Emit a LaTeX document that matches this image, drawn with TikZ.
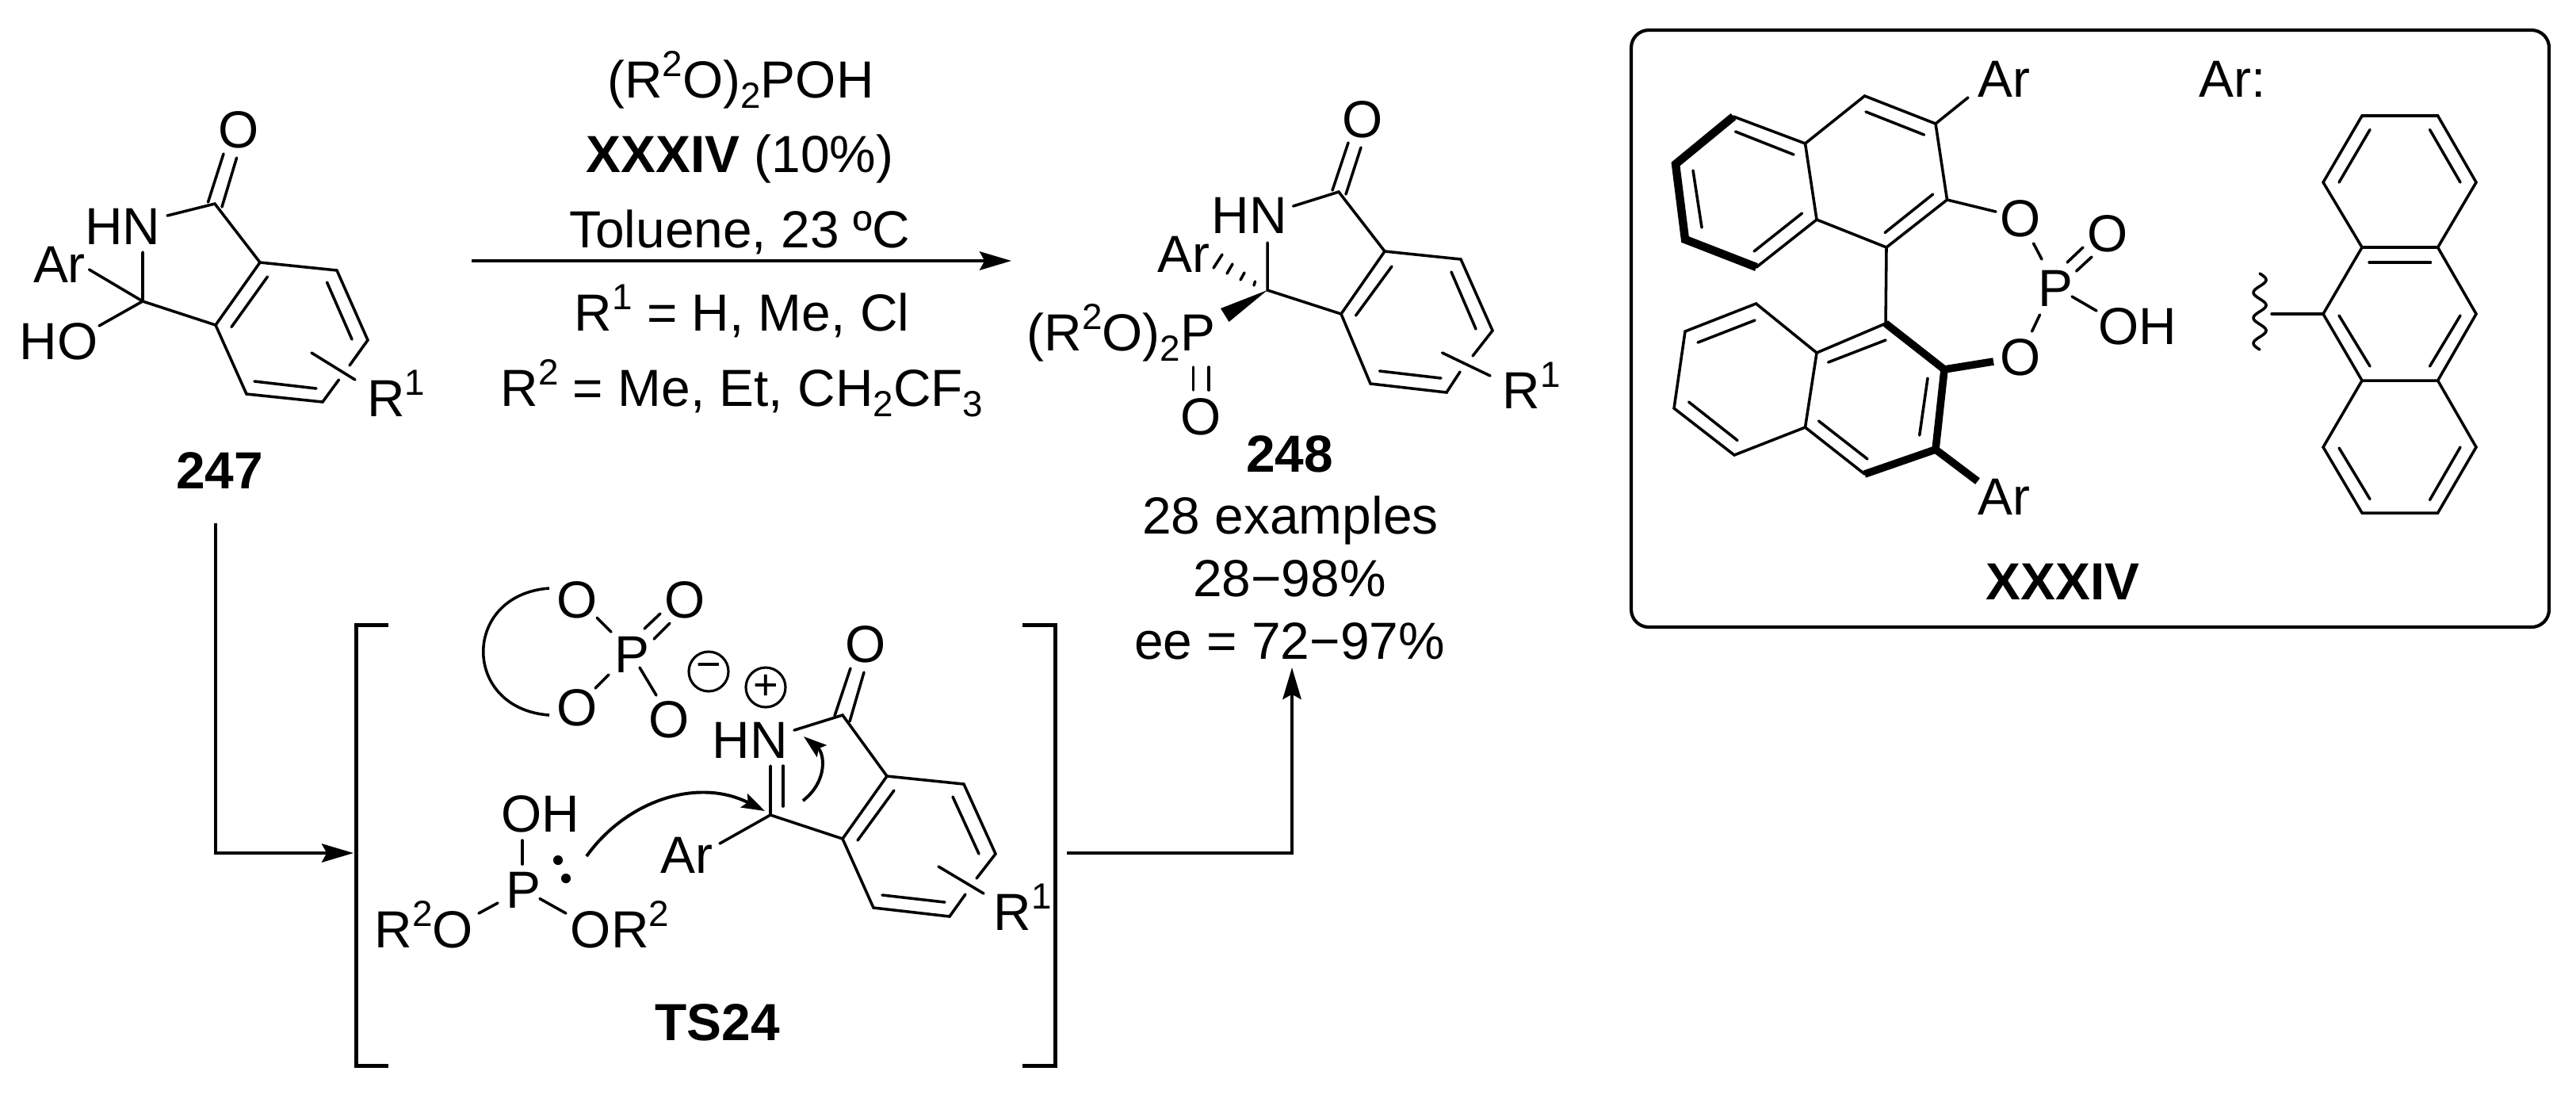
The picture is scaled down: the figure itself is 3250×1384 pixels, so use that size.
\documentclass[tikz,border=0pt]{standalone}
\usepackage{fontspec}
\setmainfont{Liberation Sans}
\usetikzlibrary{arrows.meta,positioning,calc}
\newcommand{\sps}[1]{\raisebox{.4em}{\fontsize{11}{11}\selectfont #1}}
\newcommand{\sbs}[1]{\raisebox{-.21em}{\fontsize{11}{11}\selectfont #1}}
% short stroke with named ends
\newcommand{\twig}[3]{\coordinate (#1s) at (#2); \coordinate (#1e) at (#3); \draw[bond] (#1s) -- (#1e);}
\tikzset{
  lab/.style={inner sep=0pt,font=\fontsize{15.8}{19}\selectfont},
  bond/.style={line width=.85pt,line cap=round,line join=miter},
  thick bond/.style={line width=2.5pt,line cap=butt,line join=miter},
  rxn/.style={line width=1pt,-{Stealth[length=9.6pt,width=5.6pt,inset=1.5pt]}},
  curly/.style={line width=.95pt,-{Stealth[length=7pt,width=4.6pt,inset=1.2pt]}},
  brk/.style={line width=1.2pt,line join=miter},
  chg/.style={circle,draw,line width=.75pt,minimum size=12pt,inner sep=0pt,font=\fontsize{13}{13}\selectfont},
  dot/.style={circle,fill,minimum size=2.9pt,inner sep=0pt},
}
\begin{document}
\begin{tikzpicture}[x=.24pt,y=-.24pt]
  \useasboundingbox (0,0) rectangle (3250,1384);
  % 247
  \coordinate (kCO) at (271,257); \coordinate (kC3a) at (328,331); \coordinate (kC4) at (425,341);
  \coordinate (kC5) at (464,429); \coordinate (kC5x) at (441,461); \coordinate (kC6x) at (427.5,479);
  \coordinate (kC6) at (407,507); \coordinate (kC7) at (311,497); \coordinate (kC7a) at (272,410);
  \coordinate (kCq) at (180,380); \coordinate (kNb) at (211,272); \coordinate (kNc) at (180,318);
  \coordinate (kArb) at (112.5,340); \coordinate (kHOb) at (125,411);
  \coordinate (kRa) at (393,445); \coordinate (kRb) at (448,479);
  \draw[bond] (kNb) -- (kCO) -- (kC3a) -- (kC4) -- (kC5) -- (kC5x);
  \draw[bond] (kC6x) -- (kC6) -- (kC7) -- (kC7a) -- (kCq) -- (kNc);
  \draw[bond] (kC7a) -- (kC3a);
  \draw[bond] (kCq) -- (kArb);
  \draw[bond] (kCq) -- (kHOb);
  \draw[bond] (kRa) -- (kRb);
  \twig{kd1}{337.5,349}{292,412.5}
  \twig{kd2}{412.5,356}{444,428}
  \twig{kd3}{321,481}{399,490}
  \twig{kd4}{262.5,255}{282,194}
  \twig{kd5}{280,261}{298.6,199}
  \node[lab] (kO) at (301,164) {O};
  \node[lab] (kHN) at (155,286) {HN};
  \node[lab] (kAr) at (75,334) {Ar};
  \node[lab] (kHO) at (74,431) {HO};
  \node[lab,anchor=base west] (kR) at (462.5,525) {R\sps{1}};
  \node[lab,font=\fontsize{15.8}{19}\selectfont\bfseries] (k247) at (277,593) {247};
  % reagents
  \coordinate (rxnA) at (595,329); \coordinate (rxnB) at (1276,329);
  \draw[rxn] (rxnA) -- (rxnB);
  \node[lab,anchor=base] (reag1) at (934.5,123) {(R\sps{2}O)\sbs{2}POH};
  \node[lab,anchor=base] (reag2) at (933.5,217) {\textbf{XXXIV} (10\%)};
  \node[lab,anchor=base] (reag3) at (933.5,312) {Toluene, 23 ºC};
  \node[lab,anchor=base] (reag4) at (936,417) {R\sps{1} = H, Me, Cl};
  \node[lab,anchor=base] (reag5) at (936,512) {R\sps{2} = Me, Et, CH\sbs{2}CF\sbs{3}};
  % 248
  \coordinate (mCO) at (1689,242); \coordinate (mC3a) at (1747,317); \coordinate (mC4) at (1843,327);
  \coordinate (mC5) at (1883,417); \coordinate (mC5x) at (1858,449); \coordinate (mC6x) at (1842,469);
  \coordinate (mC6) at (1825,495); \coordinate (mC7) at (1729,484); \coordinate (mC7a) at (1692,396);
  \coordinate (mCq) at (1599,366); \coordinate (mNb) at (1631.5,260); \coordinate (mNc) at (1599,306);
  \coordinate (mRa) at (1819.6,445); \coordinate (mRb) at (1880,474);
  \coordinate (mWa) at (1540,389); \coordinate (mWb) at (1550.5,406);
  \draw[bond] (mNb) -- (mCO) -- (mC3a) -- (mC4) -- (mC5) -- (mC5x);
  \draw[bond] (mC6x) -- (mC6) -- (mC7) -- (mC7a) -- (mCq) -- (mNc);
  \draw[bond] (mC7a) -- (mC3a);
  \draw[bond] (mRa) -- (mRb);
  \fill (mCq) -- (mWa) -- (mWb) -- cycle;
  \twig{md1}{1756,336}{1710.5,398}
  \twig{md2}{1831,343}{1862,415}
  \twig{md3}{1740.5,468}{1818,477}
  \twig{md4}{1701,180}{1681,240}
  \twig{md5}{1717,186}{1698,245}
  \twig{md6}{1505.5,463}{1505.5,492}
  \twig{md7}{1525,463}{1525,492}
  \twig{mh1}{1583.5,355}{1582,360}
  \twig{mh2}{1570,344}{1565,353}
  \twig{mh3}{1555,333}{1548,345}
  \twig{mh4}{1542,321}{1531,338}
  \node[lab] (mO) at (1719,151) {O};
  \node[lab] (mHN) at (1576,272) {HN};
  \node[lab] (mAr) at (1493,321) {Ar};
  \node[lab,anchor=base east] (mP) at (1534,442) {(R\sps{2}O)\sbs{2}P};
  \node[lab] (mOb) at (1515,526) {O};
  \node[lab,anchor=base west] (mR) at (1894.7,515) {R\sps{1}};
  \node[lab,anchor=base,font=\fontsize{15.8}{19}\selectfont\bfseries] (m248) at (1627,595) {248};
  \node[lab,anchor=base] (mEx) at (1628,673) {28 examples};
  \node[lab,anchor=base] (mYd) at (1627,752) {28−98\%};
  \node[lab,anchor=base] (mEe) at (1627,831) {ee = 72−97\%};
  % connecting arrows
  \coordinate (inA) at (272,660); \coordinate (inB) at (272,1076); \coordinate (inC) at (446,1076);
  \coordinate (outA) at (1346,1076); \coordinate (outB) at (1630,1076); \coordinate (outC) at (1630,842);
  \draw[rxn] (inA) -- (inB) -- (inC);
  \draw[rxn] (outA) -- (outB) -- (outC);
  % TS24
  \coordinate (bL1) at (490,788.5); \coordinate (bL2) at (449,788.5); \coordinate (bL3) at (449,1344); \coordinate (bL4) at (490,1344);
  \coordinate (bR1) at (1290,788.5); \coordinate (bR2) at (1331,788.5); \coordinate (bR3) at (1331,1344); \coordinate (bR4) at (1290,1344);
  \draw[brk] (bL1) -- (bL2) -- (bL3) -- (bL4);
  \draw[brk] (bR1) -- (bR2) -- (bR3) -- (bR4);
  \node[lab] (tOa) at (728,757) {O};
  \node[lab] (tOb) at (864,757) {O};
  \node[lab] (tOc) at (728,893) {O};
  \node[lab] (tOd) at (844,908) {O};
  \node[lab] (tP) at (797,826) {P};
  \coordinate (tArcA) at (693,742); \coordinate (tArcB) at (693,902);
  \draw[bond,line cap=butt] (tArcA) .. controls (582,750) and (582,894) .. (tArcB);
  \twig{tp1}{753,779}{771,797}
  \twig{tp2}{813,793}{833,774}
  \twig{tp3}{825,806}{845,786}
  \twig{tp4}{807,842}{828,877}
  \twig{tp5}{768,851}{751,868}
  \node[chg] (tMin) at (894,847) {−};
  \node[chg] (tPlus) at (966,867) {+};
  \node[lab] (tOH) at (682,1027) {OH};
  \node[lab] (tP2) at (660,1123) {P};
  \node[lab,anchor=base east] (tOl) at (598,1195) {R\sps{2}O};
  \node[lab,anchor=base west] (tOr) at (719,1195) {OR\sps{2}};
  \twig{tq1}{659,1060}{659,1090}
  \twig{tq2}{604,1152}{628,1139}
  \twig{tq3}{681,1133.5}{714,1152}
  \node[dot] (tDot1) at (704,1085) {};
  \node[dot] (tDot2) at (714,1108) {};
  \node[lab] (tAr) at (866,1079) {Ar};
  \node[lab,font=\fontsize{15.8}{19}\selectfont\bfseries] (tTS) at (905,1290) {TS24};
  \node[lab] (tHN) at (946,934) {HN};
  \node[lab] (tO) at (1092,813) {O};
  \coordinate (tCi) at (972,1028); \coordinate (tCiu) at (972,966); \coordinate (tArb) at (908,1064);
  \coordinate (tC7a) at (1063,1058); \coordinate (tCO) at (1063,902); \coordinate (tNb) at (1002,921);
  \coordinate (tC3a) at (1119,979); \coordinate (tC4) at (1216,989); \coordinate (tC5) at (1256,1077);
  \coordinate (tC5x) at (1232,1108); \coordinate (tC6x) at (1218,1128); \coordinate (tC6) at (1198,1156);
  \coordinate (tC7) at (1102,1145); \coordinate (tRa) at (1184,1093); \coordinate (tRb) at (1241,1127);
  \draw[bond] (tCiu) -- (tCi) -- (tC7a) -- (tC7) -- (tC6) -- (tC6x);
  \draw[bond] (tC5x) -- (tC5) -- (tC4) -- (tC3a) -- (tCO) -- (tNb);
  \draw[bond] (tC7a) -- (tC3a);
  \draw[bond] (tArb) -- (tCi);
  \draw[bond] (tRa) -- (tRb);
  \twig{td1}{988,966}{988,1017}
  \twig{td2}{1128,997}{1082,1060}
  \twig{td3}{1202,1005}{1235,1077}
  \twig{td4}{1113,1129}{1192,1138}
  \twig{td5}{1073,843}{1053,903}
  \twig{td6}{1090,848}{1072,910}
  \node[lab,anchor=base west] (tR) at (1253,1173) {R\sps{1}};
  \coordinate (cvA) at (740,1080); \coordinate (cvB) at (965,1023);
  \coordinate (cwA) at (1013,1010); \coordinate (cwB) at (1014,929);
  \draw[curly] (cvA) .. controls (790,1010) and (880,980) .. (cvB);
  \draw[curly] (cwA) .. controls (1045,985) and (1040,950) .. (cwB);
  % catalyst box
  \draw[line width=1pt,rounded corners=5.3pt] (2058,38) rectangle (3216,791);
  \coordinate (u1) at (2352.5,121); \coordinate (u2) at (2442,156); \coordinate (u3) at (2456.5,252);
  \coordinate (u4) at (2380,312); \coordinate (u4a) at (2292,277); \coordinate (u8a) at (2277.5,181);
  \coordinate (u5) at (2216,337); \coordinate (u6) at (2126,302); \coordinate (u7) at (2114,207);
  \coordinate (u8) at (2187,147);
  \coordinate (uArb) at (2483,123); \coordinate (uOb) at (2518,267);
  \draw[thick bond] (u8) -- (u7) -- (u6) -- (u5);
  \draw[bond] (u8) -- (u8a) -- (u1) -- (u2) -- (u3) -- (u4) -- (u4a) -- (u8a);
  \draw[bond] (u4a) -- (u5);
  \draw[bond] (u2) -- (uArb);
  \draw[bond] (u3) -- (uOb);
  \twig{ud1}{2354,141}{2427.5,170}
  \twig{ud2}{2438.6,245}{2378,293.5}
  \twig{ud3}{2273.5,269}{2213,317}
  \twig{ud4}{2136,215}{2147,287}
  \twig{ud5}{2189.5,166}{2263,195}
  \node[lab] (uAr) at (2528,100) {Ar};
  \node[lab] (uO) at (2549,276) {O};
  \node[lab] (cP) at (2593,364) {P};
  \node[lab] (cO) at (2659,295) {O};
  \node[lab] (cOH) at (2697,412) {OH};
  \node[lab] (lO) at (2549,451) {O};
  \twig{cb1}{2565.5,307}{2576,327}
  \twig{cb2}{2608,331}{2628,312}
  \twig{cb3}{2619.5,342}{2639,324}
  \twig{cb4}{2614,374}{2645,392}
  \twig{cb5}{2573.5,397}{2563.6,418}
  \coordinate (l1) at (2352.5,598); \coordinate (l2) at (2442,567); \coordinate (l3) at (2453,466);
  \coordinate (l4) at (2379,408); \coordinate (l4a) at (2292,445); \coordinate (l8a) at (2277.5,539);
  \coordinate (l5) at (2215.5,383); \coordinate (l6) at (2126,418); \coordinate (l7) at (2112,515);
  \coordinate (l8) at (2188,574);
  \coordinate (lArb) at (2495,607); \coordinate (lOb) at (2515,456);
  \draw[bond] (u4) -- (l4);
  \draw[bond] (l4) -- (l4a) -- (l5) -- (l6) -- (l7) -- (l8) -- (l8a) -- (l4a);
  \draw[bond] (l8a) -- (l1);
  \draw[thick bond,line width=2.3pt] (l4) -- (l3) -- (l2) -- (l1);
  \draw[thick bond,line width=2.3pt] (l3) -- (lOb);
  \draw[thick bond,line width=2.3pt] (l2) -- (lArb);
  \twig{ld1}{2306.5,457}{2379,429}
  \twig{ld2}{2142,432}{2214,404}
  \twig{ld3}{2130.6,507}{2192,555.5}
  \twig{ld4}{2294.5,531}{2356,579}
  \twig{ld5}{2432,477}{2421.7,549}
  \node[lab] (lAr) at (2528,627) {Ar};
  \node[lab,font=\fontsize{15.8}{19}\selectfont\bfseries] (cName) at (2602.5,734) {XXXIV};
  % anthracenyl
  \node[lab] (qLab) at (2817,100) {Ar:};
  \coordinate (q1) at (2980,146); \coordinate (q2) at (3075.6,146); \coordinate (q3) at (3124,230);
  \coordinate (q4) at (3075.6,312); \coordinate (q5) at (2980,312); \coordinate (q6) at (2931,230);
  \coordinate (q7) at (3124,396); \coordinate (q8) at (3075.6,480); \coordinate (q9) at (2980,480);
  \coordinate (q10) at (2931,396); \coordinate (q11) at (3124,564); \coordinate (q12) at (3075.6,647);
  \coordinate (q13) at (2980,647); \coordinate (q14) at (2931,564); \coordinate (qTail) at (2866,396);
  \draw[bond] (q1) -- (q2) -- (q3) -- (q4) -- (q5) -- (q6) -- cycle;
  \draw[bond] (q4) -- (q7) -- (q8) -- (q9) -- (q10) -- (q5);
  \draw[bond] (q8) -- (q11) -- (q12) -- (q13) -- (q14) -- (q9);
  \draw[bond] (qTail) -- (q10);
  \twig{qd1}{2990,163.5}{2951,230}
  \twig{qd2}{3065.5,163.5}{3104,230}
  \twig{qd3}{2989,331}{3066.5,331}
  \twig{qd4}{2951,398}{2990,462}
  \twig{qd5}{3104,398}{3065.5,462}
  \twig{qd6}{2951,565}{2990,629.6}
  \twig{qd7}{3104,564}{3065.5,630.6}
  \draw[bond,smooth] plot[domain=0:1,samples=70] ({2851+8*sin(1080*\x)},{345+96*\x});
\end{tikzpicture}
\end{document}
